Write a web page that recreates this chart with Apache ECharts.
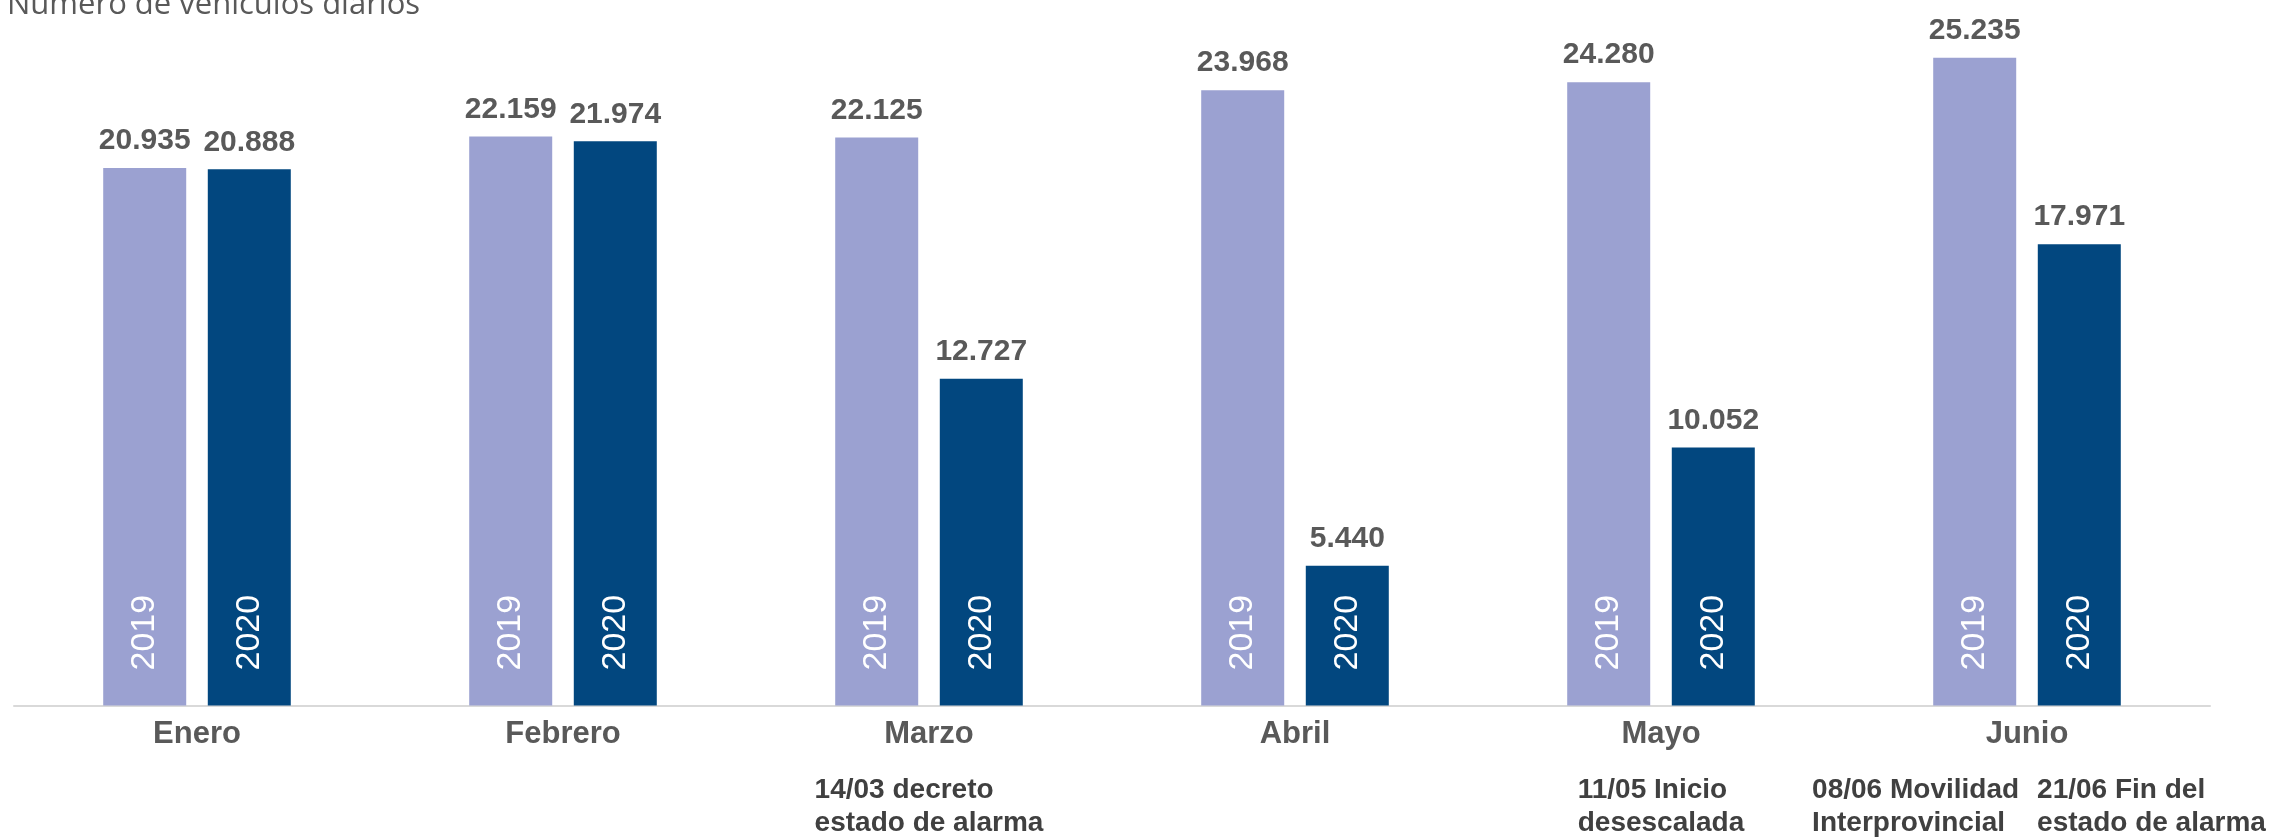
<!DOCTYPE html>
<html lang="es">
<head>
<meta charset="utf-8">
<title>Número de vehículos diarios</title>
<script src="https://cdn.jsdelivr.net/npm/echarts@6/dist/echarts.min.js"></script>
<style>
  html, body { margin: 0; padding: 0; background: #fff; }
  #chart { width: 2287px; height: 837px; }
</style>
</head>
<body>
<div id="chart"></div>
<script>
// datos (vehículos diarios por mes)
const months = ['Enero', 'Febrero', 'Marzo', 'Abril', 'Mayo', 'Junio'];
const values2019 = [20935, 22159, 22125, 23968, 24280, 25235];
const values2020 = [20888, 21974, 12727, 5440, 10052, 17971];
// notas bajo el eje, por mes (cada nota: lista de líneas)
const notes = {
  Marzo: [['14/03 decreto', 'estado de alarma']],
  Mayo: [['11/05 Inicio', 'desescalada']],
  Junio: [['08/06 Movilidad', 'Interprovincial'], ['21/06 Fin del', 'estado de alarma']]
};

const grey = '#595959';
const color2019 = '#9ba1d1';
const color2020 = '#02477f';
const font = "'Liberation Sans', Arial, sans-serif";

// 20935 -> "20.935"
const fmt = (v) => String(v).replace(/\B(?=(\d{3})+(?!\d))/g, '.');

// etiqueta del eje: mes + notas (texto enriquecido)
const monthLabel = (m) => {
  const n = notes[m];
  if (!n) return '{m|' + m + '}';
  if (n.length === 1) {
    return '{m|' + m + '}\n{s| }\n{n|' + n[0][0] + '}\n{n|' + n[0][1] + '}';
  }
  return '{m|' + m + '}\n{s| }\n{a|' + n[0][0] + '}{b|' + n[1][0] + '}\n{a|' + n[0][1] + '}{b|' + n[1][1] + '}';
};

const chart = echarts.init(document.getElementById('chart'));

const barBase = {
  type: 'bar',
  barWidth: 83,
  barGap: '26%'
};

const noteStyle = { fontFamily: font, fontSize: 28, fontWeight: 'bold', color: '#404040', lineHeight: 33, align: 'left' };

const option = {
  animation: false,
  title: {
    text: 'Número de vehículos diarios',
    left: 2,
    top: -15,
    textStyle: { fontFamily: "'Open Sans', sans-serif", fontSize: 31, fontWeight: 'normal', color: grey }
  },
  grid: { left: 14, right: 77, top: 38, bottom: 131 },
  xAxis: [
    {
      type: 'category',
      data: months,
      axisLine: { lineStyle: { color: '#d9d9d9', width: 2 } },
      axisTick: { show: false },
      axisLabel: {
        margin: 9,
        interval: 0,
        formatter: monthLabel,
        rich: {
          m: { fontFamily: font, fontSize: 31, fontWeight: 'bold', color: grey, lineHeight: 40, align: 'center' },
          s: { fontSize: 10, lineHeight: 19 },
          n: noteStyle,
          a: { ...noteStyle, width: 225, padding: [0, 0, 0, 24] },
          b: noteStyle
        }
      }
    },
    // eje oculto, solo para las etiquetas de valor encima de las barras
    { type: 'category', data: months, show: false }
  ],
  yAxis: { type: 'value', min: 0, max: 26000, show: false },
  series: [
    {
      ...barBase,
      name: '2019',
      data: values2019,
      itemStyle: { color: color2019 },
      label: {
        show: true, position: 'insideBottom', distance: 35, rotate: 90,
        align: 'left', verticalAlign: 'middle',
        formatter: '2019', color: '#fff', fontSize: 34, fontFamily: font
      }
    },
    {
      ...barBase,
      name: '2020',
      data: values2020,
      itemStyle: { color: color2020 },
      label: {
        show: true, position: 'insideBottom', distance: 35, rotate: 90,
        align: 'left', verticalAlign: 'middle',
        formatter: '2020', color: '#fff', fontSize: 34, fontFamily: font
      }
    },
    {
      ...barBase,
      xAxisIndex: 1,
      data: values2019,
      silent: true,
      itemStyle: { color: 'transparent' },
      label: { show: true, position: 'top', distance: 12, formatter: (p) => fmt(p.value), color: grey, fontSize: 30, fontWeight: 'bold', fontFamily: font }
    },
    {
      ...barBase,
      xAxisIndex: 1,
      data: values2020,
      silent: true,
      itemStyle: { color: 'transparent' },
      label: { show: true, position: 'top', distance: 12, formatter: (p) => fmt(p.value), color: grey, fontSize: 30, fontWeight: 'bold', fontFamily: font }
    }
  ]
};

chart.setOption(option);
window.addEventListener('resize', () => chart.resize());
</script>
</body>
</html>
